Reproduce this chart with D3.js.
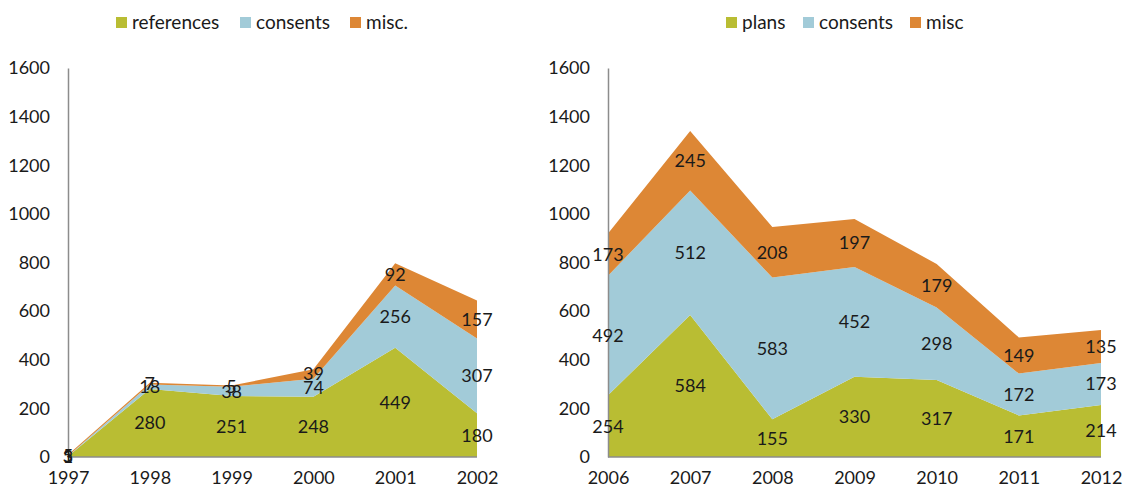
<!DOCTYPE html>
<html>
<head>
<meta charset="utf-8">
<script src="https://d3js.org/d3.v7.min.js"></script>
<style>
  body { margin: 0; background: #fff; }
  text { font-family: Lato, "Open Sans", sans-serif; fill: #1a1a1a; }
</style>
</head>
<body>
<svg id="chart" width="1127" height="490"></svg>
<script>

// left chart data
var yearsA = ["1997","1998","1999","2000","2001","2002"];
var references = [3, 280, 251, 248, 449, 180];
var consentsA = [1, 18, 38, 74, 256, 307];
var miscA = [5, 7, 5, 39, 92, 157];
var namesA = ["references", "consents", "misc."];

// right chart data
var yearsB = ["2006","2007","2008","2009","2010","2011","2012"];
var plans = [254, 584, 155, 330, 317, 171, 214];
var consentsB = [492, 512, 583, 452, 298, 172, 173];
var miscB = [173, 245, 208, 197, 179, 149, 135];
var namesB = ["plans", "consents", "misc"];

var yTicks = [0, 200, 400, 600, 800, 1000, 1200, 1400, 1600];
var colors = ["#b9bd33", "#a2cbd8", "#dd8735"];

var svg = d3.select("#chart");

function buildArea(years, series, names, x0, x1, legendX) {

  var rows = years.map(function(y, i) {
    return {year: y, s0: series[0][i], s1: series[1][i], s2: series[2][i]};
  });

  var x = d3.scalePoint().domain(years).range([x0, x1]);
  var y = d3.scaleLinear().domain([0, 1600]).range([457, 68]);

  var stack = d3.stack().keys(["s0", "s1", "s2"]);
  var layers = stack(rows);

  var area = d3.area()
    .x(function(d) { return x(d.data.year); })
    .y0(function(d) { return y(d[0]); })
    .y1(function(d) { return y(d[1]); });

  var g = svg.append("g");

  g.selectAll("path.layer")
    .data(layers)
    .enter().append("path")
    .attr("class", "layer")
    .attr("d", area)
    .attr("fill", function(d, i) { return colors[i]; });

  // axes (lines only, no ticks)
  var yAxis = g.append("g")
    .attr("transform", "translate(" + x0 + ",0)")
    .call(d3.axisLeft(y).tickValues(yTicks).tickSize(0).tickPadding(18).tickFormat(d3.format("d")));
  yAxis.select(".domain").attr("stroke", "#8c8c8c").attr("stroke-width", 1.5);
  yAxis.selectAll("text").style("font-size", "18px").attr("fill", "#1a1a1a");

  var xAxis = g.append("g")
    .attr("transform", "translate(0,457)")
    .call(d3.axisBottom(x).tickSize(0).tickPadding(14));
  xAxis.select(".domain").attr("stroke", "#8c8c8c").attr("stroke-width", 1.5)
    .attr("d", "M" + x0 + ",0H" + x1);
  xAxis.selectAll("text").style("font-size", "18px").attr("fill", "#1a1a1a");

  // data labels in the middle of each band
  layers.forEach(function(layer, li) {
    g.selectAll("text.lbl" + li)
      .data(layer)
      .enter().append("text")
      .attr("class", "lbl" + li)
      .attr("x", function(d) { return x(d.data.year); })
      .attr("y", function(d) { return y((d[0] + d[1]) / 2); })
      .attr("dy", "0.36em")
      .attr("text-anchor", "middle")
      .style("font-size", "18px")
      .text(function(d) { return d[1] - d[0]; });
  });

  // legend
  var lg = svg.append("g");
  var lx = legendX;
  names.forEach(function(n, i) {
    lg.append("rect")
      .attr("x", lx[i]).attr("y", 17)
      .attr("width", 11).attr("height", 11)
      .attr("fill", colors[i]);
    lg.append("text")
      .attr("x", lx[i] + 16).attr("y", 29)
      .style("font-size", "19px")
      .text(n);
  });
}

buildArea(yearsA, [references, consentsA, miscA], namesA, 68, 477, [116, 240, 350]);
buildArea(yearsB, [plans, consentsB, miscB], namesB, 608, 1101, [726, 803, 910]);

</script>
</body>
</html>
